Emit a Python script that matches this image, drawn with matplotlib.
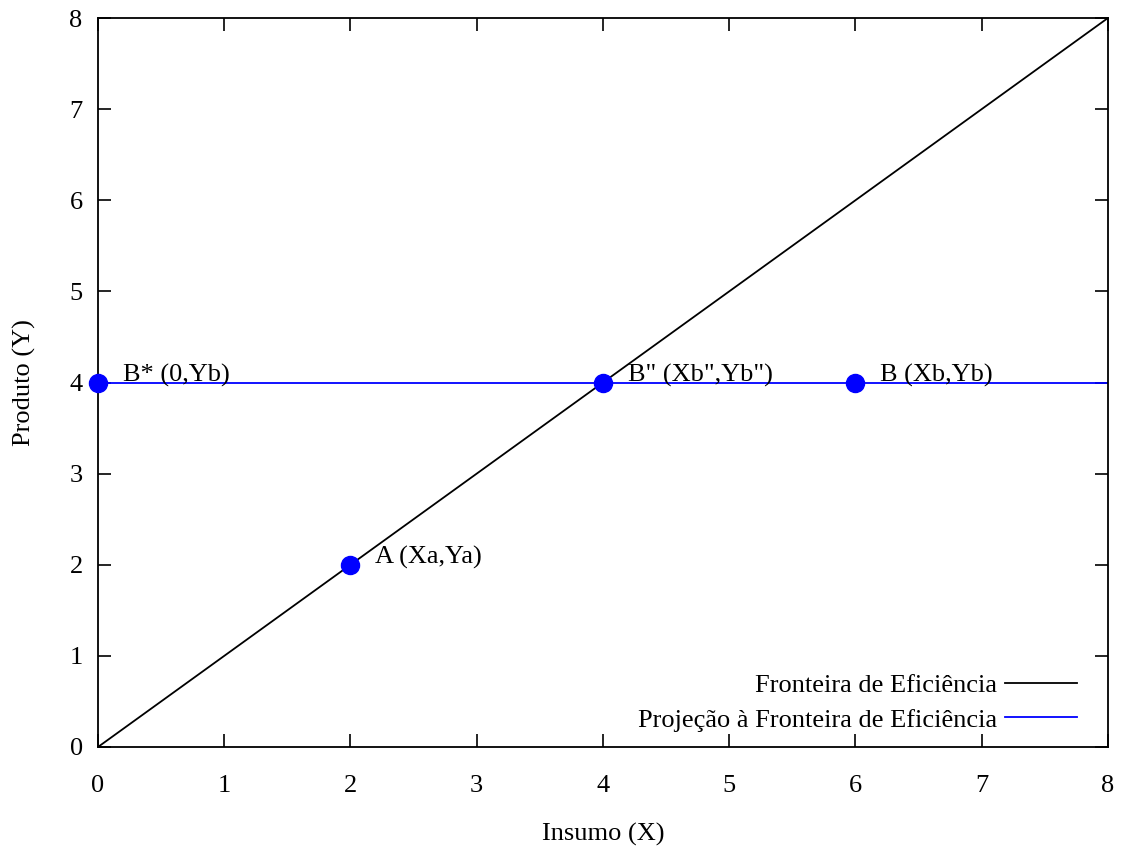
import matplotlib
matplotlib.use("Agg")
import matplotlib.pyplot as plt

plt.rcParams['font.family'] = ['Liberation Serif', 'DejaVu Serif']

# Fronteira de eficiência e projeção
fronteira_x = [0, 8]
fronteira_y = [0, 8]
projecao_x = [0, 8]
projecao_y = [4, 4]

# Pontos (DMUs)
pontos_x = [0, 2, 4, 6]
pontos_y = [4, 2, 4, 4]
rotulos = ['B* (0,Yb)', 'A (Xa,Ya)', 'B" (Xb",Yb")', 'B (Xb,Yb)']

ticks = [0, 1, 2, 3, 4, 5, 6, 7, 8]

fs = 19

fig = plt.figure(figsize=(11.28, 8.5), dpi=100)
ax = fig.add_axes([0.0869, 0.1212, 0.8953, 0.8576])

ax.plot(fronteira_x, fronteira_y, color='black', lw=1.3, label='Fronteira de Eficiência')
ax.plot(projecao_x, projecao_y, color='#0000ff', lw=1.3, label='Projeção à Fronteira de Eficiência')
ax.plot(pontos_x, pontos_y, 'o', color='#0000ff', ms=13, clip_on=False, zorder=5)

for x, y, r in zip(pontos_x, pontos_y, rotulos):
    ax.annotate(r, (x, y), xytext=(18, 1), textcoords='offset points',
                fontsize=fs, va='baseline', ha='left')

ax.set_xlim(0, 8)
ax.set_ylim(0, 8)
ax.set_xticks(ticks)
ax.set_yticks(ticks)
ax.tick_params(direction='in', length=9.5, width=1.2, labelsize=fs,
               top=True, right=True)
ax.tick_params(axis='x', pad=20)
ax.tick_params(axis='y', pad=11)
for s in ax.spines.values():
    s.set_linewidth(1.3)

ax.set_xlabel('Insumo (X)', fontsize=fs, labelpad=19)
ax.set_ylabel('Produto (Y)', fontsize=fs, labelpad=24)

ax.legend(loc='lower right', frameon=False, markerfirst=False, fontsize=fs,
          handlelength=2.7, handletextpad=0.3, borderaxespad=0.1,
          labelspacing=0.42, bbox_to_anchor=(0.982, 0.003))

fig.savefig('out.png', dpi=100)
